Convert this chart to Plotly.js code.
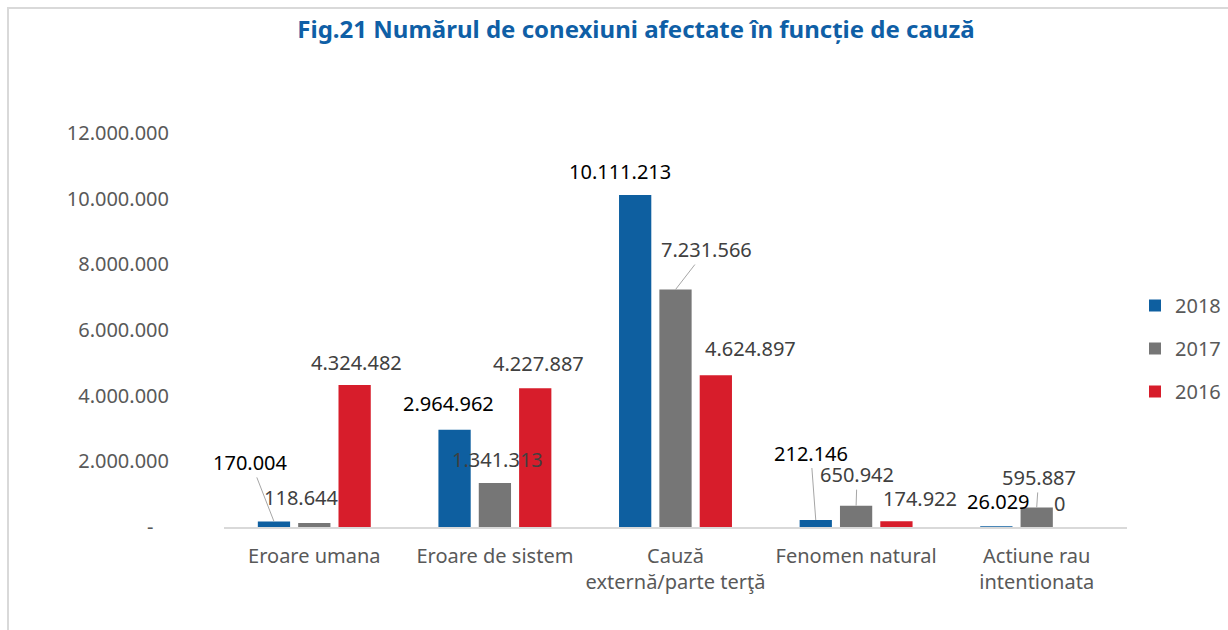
<!DOCTYPE html>
<html>
<head>
<meta charset="utf-8">
<script src="https://cdn.plot.ly/plotly-3.0.1.min.js"></script>
<style>html,body{margin:0;padding:0;background:#fff;}#chart{width:1228px;height:630px;}</style>
</head>
<body>
<div id="chart"></div>
<script>
// ---- data ----
const categories = ['Eroare umana', 'Eroare de sistem', 'Cauză<br>externă/parte terţă', 'Fenomen natural', 'Actiune rau<br>intentionata'];
const seriesNames = ['2018', '2017', '2016'];
const values2018 = [170004, 2964962, 10111213, 212146, 26029];
const values2017 = [118644, 1341313, 7231566, 650942, 595887];
const values2016 = [4324482, 4227887, 4624897, 174922, 0];
const yTickValues = [0, 2000000, 4000000, 6000000, 8000000, 10000000, 12000000];

// ---- styles ----
const colors = ['#0E5FA0', '#767676', '#D71D2B'];
const labelColors = ['#000000', '#404040', '#404040'];
const FONT = 'Noto Sans, sans-serif';
// label offsets (px) relative to bar top, and whether a leader line is shown
const labelOffsets = [
  [[-23, -59, true], [-6, -26, false], [-15, -24, false], [-5, -67, true], [2, -25, false]],
  [[-13, -26, false], [3, -23, false], [31, -40, true], [1, -31, true], [2, -30, true]],
  [[2, -23, false], [3, -25, false], [35, -27, false], [24, -23, false], [-18, -24, false]]
];

const fmt = v => String(v).replace(/\B(?=(\d{3})+(?!\d))/g, '.');

const L = 224, R = 101, T = 133, B = 103, W = 1228, H = 630;
const plotW = W - L - R, plotH = H - T - B;
const bargap = 0.33, bargroupgap = 0.2;
const slot = plotW / categories.length * (1 - bargap) / 3;

const allValues = [values2018, values2017, values2016];
const traces = allValues.map((vals, i) => ({
  type: 'bar',
  name: seriesNames[i],
  x: categories,
  y: vals,
  marker: {color: colors[i]},
  legendgroup: 'g' + i,
  hoverinfo: 'none'
}));

const annotations = [];
allValues.forEach((vals, s) => {
  vals.forEach((v, c) => {
    const [ax, ay, leader] = labelOffsets[s][c];
    annotations.push({
      xref: 'x', yref: 'y', x: categories[c], y: v,
      xshift: (s - 1) * slot,
      text: fmt(v),
      showarrow: true,
      ax: ax, ay: ay,
      arrowhead: 0, arrowwidth: 1, standoff: 0,
      arrowcolor: leader ? '#A6A6A6' : 'rgba(0,0,0,0)',
      font: {family: FONT, size: 20, color: labelColors[s]}
    });
  });
});

const px2x = p => (p - L) / plotW;
const py2y = p => (H - B - p) / plotH;

const layout = {
  width: W, height: H,
  margin: {l: L, r: R, t: T, b: B, autoexpand: false},
  paper_bgcolor: '#ffffff', plot_bgcolor: '#ffffff',
  font: {family: FONT, size: 20, color: '#595959'},
  title: {
    text: '<b>Fig.21 Numărul de conexiuni afectate în funcție de cauză</b>',
    font: {family: FONT, size: 24, color: '#0F5FA6'},
    xref: 'paper', x: px2x(636), xanchor: 'center',
    yref: 'container', y: 1 - 30 / H, yanchor: 'middle'
  },
  barmode: 'group', bargap: bargap, bargroupgap: bargroupgap,
  xaxis: {
    type: 'category',
    autorange: false, range: [-0.5, categories.length - 0.5],
    showline: true, linecolor: '#D9D9D9', linewidth: 1.5,
    showgrid: false, zeroline: false,
    ticks: 'outside', ticklen: 10, tickcolor: 'rgba(0,0,0,0)',
    tickfont: {family: FONT, size: 20, color: '#595959'}
  },
  yaxis: {
    autorange: false, range: [0, 12000000],
    tickvals: yTickValues,
    ticktext: yTickValues.map(v => v === 0 ? '-\u00a0\u00a0\u00a0' : fmt(v)),
    showline: false, showgrid: false, zeroline: false,
    ticks: 'outside', ticklen: 50, tickcolor: 'rgba(0,0,0,0)',
    tickfont: {family: FONT, size: 20, color: '#595959'}
  },
  legend: {
    x: px2x(1135), xanchor: 'left', y: py2y(348.5), yanchor: 'middle',
    traceorder: 'grouped', tracegroupgap: 14,
    font: {family: FONT, size: 20, color: '#595959'},
    bgcolor: 'rgba(0,0,0,0)'
  },
  annotations: annotations,
  shapes: [
    {type: 'line', xref: 'paper', yref: 'paper', x0: px2x(8), x1: px2x(8), y0: py2y(8), y1: py2y(640), line: {color: '#D9D9D9', width: 2}},
    {type: 'line', xref: 'paper', yref: 'paper', x0: px2x(7), x1: px2x(1240), y0: py2y(8), y1: py2y(8), line: {color: '#D9D9D9', width: 2}}
  ],
  showlegend: true
};

Plotly.newPlot('chart', traces, layout, {displayModeBar: false, staticPlot: true});
</script>
</body>
</html>
